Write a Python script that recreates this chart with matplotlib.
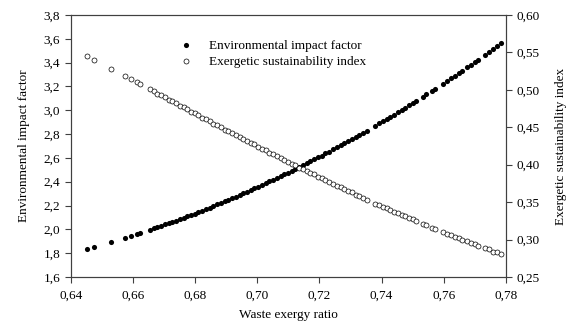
import numpy as np
import matplotlib
matplotlib.use('Agg')
import matplotlib.pyplot as plt
from matplotlib.ticker import FuncFormatter, MultipleLocator

plt.rcParams['font.family'] = 'Liberation Serif'
plt.rcParams['font.size'] = 9.5

# waste exergy ratio
wer = [0.6451, 0.6475, 0.6529, 0.6576, 0.6595, 0.6612, 0.6623,
       0.6655, 0.6667, 0.6679, 0.6691, 0.6703, 0.6715, 0.6727, 0.6739, 0.6751, 0.6763,
       0.6775, 0.6787, 0.6799, 0.6811, 0.6823, 0.6835, 0.6847, 0.6859, 0.6871, 0.6883,
       0.6895, 0.6907, 0.6919, 0.6931, 0.6943, 0.6955, 0.6967, 0.6979, 0.6991, 0.7003,
       0.7015, 0.7027, 0.7039, 0.7051, 0.7063, 0.7075, 0.7087, 0.7099, 0.7111, 0.7123,
       0.7135, 0.7147, 0.7159, 0.7171, 0.7183, 0.7195, 0.7207, 0.7219, 0.7231,
       0.7244, 0.7256, 0.7268, 0.7280, 0.7292, 0.7304, 0.7316, 0.7328, 0.7340, 0.7352,
       0.7380, 0.7392, 0.7404, 0.7416, 0.7428, 0.7440, 0.7452, 0.7464, 0.7476, 0.7488,
       0.7500, 0.7512,
       0.7532, 0.7544,
       0.7562, 0.7572,
       0.7596, 0.7609, 0.7622, 0.7635, 0.7648, 0.7659,
       0.7675, 0.7687, 0.7699, 0.7710,
       0.7733, 0.7746, 0.7759, 0.7772, 0.7785]

# environmental impact factor
eif = [1.836, 1.853, 1.893, 1.930, 1.946, 1.960, 1.969,
       1.997, 2.008, 2.019, 2.029, 2.041, 2.052, 2.063, 2.074, 2.086, 2.098,
       2.109, 2.121, 2.133, 2.146, 2.158, 2.170, 2.183, 2.196, 2.209, 2.221,
       2.235, 2.248, 2.261, 2.275, 2.288, 2.302, 2.316, 2.330, 2.344, 2.358,
       2.373, 2.387, 2.402, 2.416, 2.431, 2.446, 2.461, 2.477, 2.492, 2.508,
       2.523, 2.539, 2.555, 2.571, 2.587, 2.604, 2.620, 2.637, 2.653,
       2.671, 2.688, 2.705, 2.723, 2.740, 2.758, 2.775, 2.793, 2.811, 2.829,
       2.871, 2.890, 2.908, 2.927, 2.946, 2.964, 2.983, 3.003, 3.022, 3.041,
       3.061, 3.081,
       3.114, 3.134,
       3.164, 3.181,
       3.222, 3.245, 3.267, 3.290, 3.313, 3.332,
       3.361, 3.382, 3.404, 3.424,
       3.466, 3.490, 3.515, 3.539, 3.563]

# exergetic sustainability index
esi = [0.545, 0.540, 0.528, 0.518, 0.514, 0.510, 0.508,
       0.501, 0.498, 0.495, 0.493, 0.490, 0.487, 0.485, 0.482, 0.479, 0.477,
       0.474, 0.471, 0.469, 0.466, 0.463, 0.461, 0.458, 0.455, 0.453, 0.450,
       0.447, 0.445, 0.442, 0.440, 0.437, 0.434, 0.432, 0.429, 0.427, 0.424,
       0.421, 0.419, 0.416, 0.414, 0.411, 0.409, 0.406, 0.404, 0.401, 0.399,
       0.396, 0.394, 0.391, 0.389, 0.387, 0.384, 0.382, 0.379, 0.377,
       0.374, 0.372, 0.370, 0.367, 0.365, 0.363, 0.360, 0.358, 0.356, 0.353,
       0.348, 0.346, 0.344, 0.342, 0.339, 0.337, 0.335, 0.333, 0.331, 0.329,
       0.327, 0.325,
       0.321, 0.319,
       0.316, 0.314,
       0.310, 0.308, 0.306, 0.304, 0.302, 0.300,
       0.298, 0.296, 0.294, 0.292,
       0.289, 0.287, 0.284, 0.283, 0.281]

axcol = '#404040'


def comma(nd):
    fmt = '%.' + str(nd) + 'f'
    return FuncFormatter(lambda v, p: (fmt % v).replace('.', ','))


fig = plt.figure(figsize=(5.72, 3.24), dpi=100)
ax = fig.add_axes([0.1236, 0.1451, 0.7610, 0.8086])
ax2 = ax.twinx()

l1, = ax.plot(wer, eif, 'o', color='black', markersize=3.7, markeredgewidth=0,
              label='Environmental impact factor')
l2, = ax2.plot(wer, esi, 'o', markerfacecolor='white', markeredgecolor='black',
               markersize=3.6, markeredgewidth=0.5, label='Exergetic sustainability index')

ax.set_xlim(0.64, 0.78)
ax.set_ylim(1.6, 3.8)
ax2.set_ylim(0.25, 0.60)
ax.xaxis.set_major_locator(MultipleLocator(0.02))
ax.yaxis.set_major_locator(MultipleLocator(0.2))
ax2.yaxis.set_major_locator(MultipleLocator(0.05))
ax.xaxis.set_major_formatter(comma(2))
ax.yaxis.set_major_formatter(comma(1))
ax2.yaxis.set_major_formatter(comma(2))

for a in (ax, ax2):
    for s in a.spines.values():
        s.set_color(axcol)
        s.set_linewidth(0.8)
    a.tick_params(direction='out', length=4, width=0.8, color=axcol, labelsize=9.5)
ax.tick_params(axis='x', pad=5)

ax.set_xlabel('Waste exergy ratio', fontsize=9.5, labelpad=5.5)
ax.set_ylabel('Environmental impact factor', fontsize=9.5, labelpad=10)
ax2.set_ylabel('Exergetic sustainability index', fontsize=9.5, labelpad=11)

ax.legend([l1, l2], [l1.get_label(), l2.get_label()], loc='upper left',
          bbox_to_anchor=(0.215, 0.95), frameon=False, fontsize=9.5,
          handletextpad=1.0, labelspacing=0.3, handlelength=1.5)

fig.savefig('out.png', dpi=100)
